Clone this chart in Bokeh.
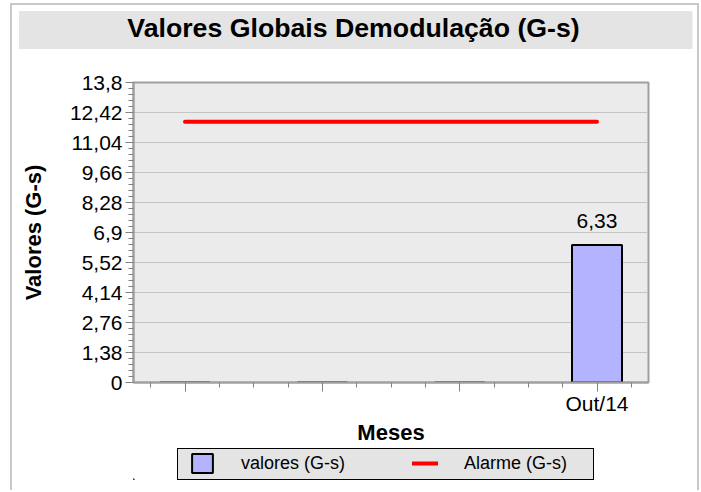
from bokeh.plotting import figure
from bokeh.models import (ColumnDataSource, Range1d, FixedTicker, Label, LabelSet, Legend,
                          LegendItem, Plot)
from bokeh.layouts import column
from bokeh.core.properties import value
from bokeh.embed import file_html
from bokeh.resources import INLINE

# ---------------- data ----------------
title_text = "Valores Globais Demodulação (G-s)"
meses = ["", "", "", "Out/14"]
valores = [0.0, 0.0, 0.0, 6.33]
alarme = [12.0, 12.0, 12.0, 12.0]
y_ticks = [0, 1.38, 2.76, 4.14, 5.52, 6.9, 8.28, 9.66, 11.04, 12.42, 13.8]
y_tick_labels = ["0", "1,38", "2,76", "4,14", "5,52", "6,9", "8,28", "9,66", "11,04", "12,42", "13,8"]
y_label = "Valores (G-s)"
x_label = "Meses"
serie_nome = "valores (G-s)"
alarme_nome = "Alarme (G-s)"

FONT = "Liberation Sans"
W = 700
HT, H1, H2 = 49, 398, 43          # title strip, chart, legend strip
BL, BR = 133, W - 648
BAR_FILL, BAR_LINE, ALARM_COLOR = "#b3b3ff", "black", "#ff0000"
BAND = "#e4e4e4"
EDGE = "#c8c8c8"
ALIGN_OK = "frame_align" in Plot.properties()

xs = list(range(len(meses)))
rotulos = [f"{v:.2f}".replace(".", ",") if v > 0 else "" for v in valores]
src = ColumnDataSource(dict(x=xs, valores=valores, alarme=alarme, rotulo=rotulos))


def layer(color, x, y, w, h):
    return f"linear-gradient({color},{color}) {x}px {y}px / {w}px {h}px no-repeat"


def strip(height, left, right, top, bottom, rng=(-10, -9)):
    f = figure(width=W, height=height, output_backend="svg", toolbar_location=None,
               x_range=Range1d(*rng), y_range=Range1d(*rng),
               x_axis_location=None, y_axis_location=None,
               min_border_left=left, min_border_right=right,
               min_border_top=top, min_border_bottom=bottom)
    f.border_fill_alpha = 0
    f.background_fill_alpha = 0
    f.outline_line_alpha = 0
    f.grid.visible = False
    return f


# ---------------- title strip ----------------
if ALIGN_OK:
    tt = strip(HT, 19, W - 692, 11, 0)
    tt.frame_align = False
    tt.background_fill_color = BAND
    tt.background_fill_alpha = 1
    title_x = 353 - 19
else:
    tt = strip(HT, BL, BR, 11, 0)
    title_x = 362 - BL
tt.styles = {"background": ", ".join([
    layer(EDGE, 10, 3, 2, 100), layer(EDGE, 10, 3, 689, 2), layer(EDGE, 697, 3, 2, 100),
    layer(BAND, 19, 11, 673, 38), "#ffffff"])}
tt.add_layout(Label(x=title_x, y=22, x_units="screen", y_units="screen",
                    text=title_text, text_align="center", text_baseline="alphabetic",
                    text_font=FONT, text_font_size="26.7px", text_font_style="bold",
                    text_color="black"))

# ---------------- main chart ----------------
p = figure(width=W, height=H1, output_backend="svg", toolbar_location=None,
           x_range=Range1d(-0.375, len(meses) - 1 + 0.375),
           y_range=Range1d(y_ticks[0], y_ticks[-1]),
           min_border_left=BL, min_border_right=BR,
           min_border_top=82 - HT, min_border_bottom=H1 - (383 - HT))

p.background_fill_color = "#ebebeb"
p.border_fill_alpha = 0
p.outline_line_color = "#a0a0a0"
p.outline_line_width = 2
p.styles = {"background": ", ".join([
    layer(EDGE, 10, 0, 2, 500), layer(EDGE, 697, 0, 2, 500), "#ffffff"])}

p.vbar(x="x", top="valores", width=0.364, source=src,
       fill_color=BAR_FILL, line_color=BAR_LINE, line_width=2)
p.line(x="x", y="alarme", source=src, line_color=ALARM_COLOR,
       line_width=4, line_cap="round")

p.add_layout(LabelSet(x="x", y="valores", text="rotulo", source=src,
                      text_align="center", text_baseline="alphabetic", y_offset=17,
                      text_font=value(FONT), text_font_size=value("21px"),
                      text_color="black"))

minor_x = [i + f for i in range(-1, len(meses)) for f in (0.25, 0.5, 0.75)]
minor_x = [m for m in minor_x if -0.375 < m < len(meses) - 1 + 0.375]
p.xaxis.ticker = FixedTicker(ticks=xs, minor_ticks=minor_x)
p.xaxis.major_label_overrides = {i: m for i, m in zip(xs, meses)}
p.xaxis.major_tick_in = 0
p.xaxis.major_tick_out = 9
p.xaxis.minor_tick_in = 0
p.xaxis.minor_tick_out = 5
p.xaxis.major_label_standoff = 0
p.xaxis.axis_label = x_label
p.xaxis.axis_label_standoff = 2

step = (y_ticks[1] - y_ticks[0]) / 5
minor_y = [y_ticks[0] + step * k for k in range(int(round((y_ticks[-1] - y_ticks[0]) / step)) + 1)]
p.yaxis.ticker = FixedTicker(ticks=y_ticks, minor_ticks=minor_y)
p.yaxis.major_label_overrides = dict(zip(y_ticks, y_tick_labels))
p.yaxis.major_tick_in = 0
p.yaxis.major_tick_out = 8
p.yaxis.minor_tick_in = 0
p.yaxis.minor_tick_out = 5
p.yaxis.major_label_standoff = 3
p.yaxis.axis_label = y_label
p.yaxis.axis_label_standoff = 21

for ax in (p.xaxis, p.yaxis):
    ax.axis_line_color = "#a0a0a0"
    ax.axis_line_width = 2
    ax.major_tick_line_color = "#808080"
    ax.minor_tick_line_color = "#808080"
    ax.major_label_text_font = FONT
    ax.major_label_text_font_size = "21px"
    ax.major_label_text_color = "black"
    ax.axis_label_text_font = FONT
    ax.axis_label_text_font_size = "22px"
    ax.axis_label_text_font_style = "bold"
    ax.axis_label_text_color = "black"

p.xgrid.visible = False
p.ygrid.ticker = FixedTicker(ticks=y_ticks)
p.ygrid.grid_line_color = "#c4c4c4"
p.ygrid.grid_line_width = 1

# ---------------- legend strip ----------------
# same horizontal borders as the chart; the series fall just outside this strip's
# visible range (clipped), so only the legend swatches show
lg = strip(H2, BL, BR, 1, H2 - 32, rng=(100, 1000))
lg.styles = {"background": ", ".join([
    layer(EDGE, 10, 0, 2, 100), layer(EDGE, 697, 0, 2, 100),
    layer(BAND, 178, 2, 415, 30), layer("#000000", 177, 1, 417, 32), "#ffffff"])}

lb = lg.vbar(x="x", top="valores", width=0.364, source=src,
             fill_color=BAR_FILL, line_color=BAR_LINE, line_width=2)
ll = lg.line(x="x", y="alarme", source=src, line_color=ALARM_COLOR,
             line_width=4, line_cap="round")

legend = Legend(items=[LegendItem(label=serie_nome, renderers=[lb]),
                       LegendItem(label=alarme_nome, renderers=[ll])],
                orientation="horizontal", location=(56, 4), padding=0, spacing=61,
                label_standoff=26, label_width=110, glyph_width=26, glyph_height=24,
                background_fill_alpha=0, border_line_alpha=0, margin=0,
                label_text_font=FONT, label_text_font_size="18px", label_text_color="black")
lg.add_layout(legend, "center")

layout = column(tt, p, lg, spacing=0)
open("out.html", "w").write(file_html(layout, INLINE))
